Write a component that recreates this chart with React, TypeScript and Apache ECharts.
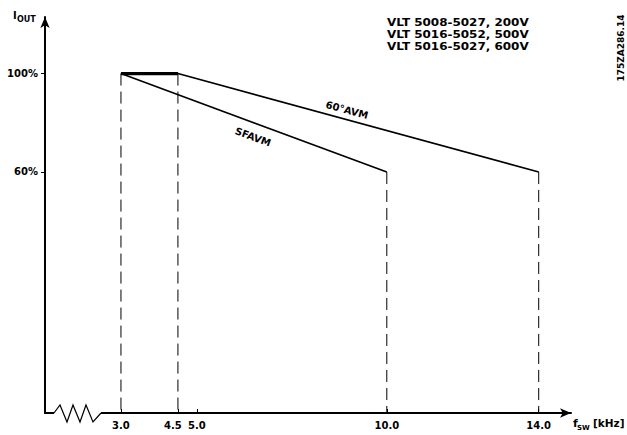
import React, { useEffect, useRef } from "react";
import * as echarts from "echarts";

// ---- data ----
const freqTicks = [3, 4.5, 5, 10, 14]; // kHz tick labels
const currentTicks = [60, 100]; // % tick labels
const avm60Freq = [3, 4.5, 14];
const avm60Current = [100, 100, 60];
const sfavmFreq = [3, 10];
const sfavmCurrent = [100, 60];
const dropFreqs = [3, 4.5, 10, 14];
const dropCurrents = [100, 100, 60, 60];
const modelLines = [
  "VLT 5008-5027, 200V",
  "VLT 5016-5052, 500V",
  "VLT 5016-5027, 600V",
];
const docCode = "175ZA286.14";

const X_MIN = 1;
const X_MAX = 14.85;
const Y_MIN = -38;
const Y_MAX = 123;

const FONT = "DejaVu Sans";

export default function App() {
  const ref = useRef<HTMLDivElement>(null);

  useEffect(() => {
    if (!ref.current) return;
    const chart = echarts.init(ref.current, null, { renderer: "svg" });

    const avm60 = avm60Freq.map((f, i) => [f, avm60Current[i]]);
    const sfavm = sfavmFreq.map((f, i) => [f, sfavmCurrent[i]]);
    const flat = avm60.slice(0, 2);

    const dropSeries = dropFreqs.map((f, i) => ({
      type: "line",
      data: [
        [f, dropCurrents[i]],
        [f, Y_MIN],
      ],
      showSymbol: false,
      silent: true,
      lineStyle: { color: "#000", width: 1, type: [12, 6] },
      z: 1,
    }));

    const txt = (
      text: string,
      x: number,
      y: number,
      size: number,
      extra: any = {}
    ) => ({
      type: "text",
      x,
      y,
      z: 100,
      ...extra,
      style: {
        text,
        fill: "#000",
        font: `bold ${size}px '${FONT}'`,
        align: "left",
        verticalAlign: "middle",
        ...(extra.style || {}),
      },
    });

    chart.setOption({
      animation: false,
      backgroundColor: "#fff",
      grid: { left: 45, right: 56, top: 17, bottom: 22 },
      xAxis: {
        type: "value",
        min: X_MIN,
        max: X_MAX,
        axisLine: {
          show: true,
          onZero: false,
          lineStyle: { color: "#000", width: 2 },
          symbol: ["none", "arrow"],
          symbolSize: [7, 11],
        },
        axisTick: {
          show: true,
          inside: true,
          length: 4,
          customValues: freqTicks,
          lineStyle: { color: "#000", width: 1 },
        },
        axisLabel: {
          customValues: freqTicks,
          formatter: (v: number) =>
            v === 4.5 ? "{s|" + v.toFixed(1) + "}" : v.toFixed(1),
          rich: {
            s: {
              padding: [0, 10, 0, 0],
              color: "#000",
              fontFamily: FONT,
              fontWeight: "bold",
              fontSize: 10,
            },
          },
          color: "#000",
          fontFamily: FONT,
          fontWeight: "bold",
          fontSize: 10,
          margin: 7,
        },
        splitLine: { show: false },
      },
      yAxis: {
        type: "value",
        min: Y_MIN,
        max: Y_MAX,
        axisLine: {
          show: true,
          onZero: false,
          lineStyle: { color: "#000", width: 2 },
          symbol: ["none", "arrow"],
          symbolSize: [7, 11],
        },
        axisTick: {
          show: true,
          length: 4,
          customValues: currentTicks,
          lineStyle: { color: "#000", width: 1 },
        },
        axisLabel: {
          customValues: currentTicks,
          formatter: "{value}%",
          color: "#000",
          fontFamily: FONT,
          fontWeight: "bold",
          fontSize: 10,
          margin: 7,
        },
        splitLine: { show: false },
      },
      series: [
        ...dropSeries,
        {
          name: "60°AVM",
          type: "line",
          data: avm60,
          showSymbol: false,
          lineStyle: { color: "#000", width: 1.6 },
          z: 3,
        },
        {
          name: "SFAVM",
          type: "line",
          data: sfavm,
          showSymbol: false,
          lineStyle: { color: "#000", width: 1.6 },
          z: 3,
        },
        {
          name: "flat",
          type: "line",
          data: flat,
          showSymbol: false,
          lineStyle: { color: "#000", width: 3.2 },
          z: 4,
        },
      ],
      graphic: [
        // axis break
        {
          type: "rect",
          shape: { x: 54, y: 409, width: 47, height: 8 },
          style: { fill: "#fff" },
          z: 90,
        },
        {
          type: "polyline",
          shape: {
            points: [
              [54, 413],
              [60, 405],
              [67, 422],
              [73, 405],
              [80, 422],
              [86, 405],
              [93, 422],
              [101, 413],
            ],
          },
          style: { stroke: "#000", lineWidth: 1.2, fill: null },
          z: 91,
        },
        // axis titles
        txt("I", 13, 15, 10),
        txt("OUT", 17, 19, 8),
        txt("f", 573, 423, 11),
        txt("SW", 577, 428, 7),
        txt("[kHz]", 593, 423, 10.5),
        // curve labels
        txt("60°AVM", 347, 110, 10, {
          rotation: -0.26,
          style: { align: "center" },
        }),
        txt("SFAVM", 253, 137, 10, {
          rotation: -0.35,
          style: { align: "center" },
        }),
        // model list
        txt(modelLines.join("\n"), 387, 35, 10.5, {
          scaleX: 1.14,
          style: { lineHeight: 12 },
        }),
        // document code
        txt(docCode, 621, 48, 9, {
          rotation: Math.PI / 2,
          style: { align: "center" },
        }),
      ],
    });

    return () => chart.dispose();
  }, []);

  return (
    <div
      ref={ref}
      style={{ position: "fixed", left: 0, top: 0, width: 627, height: 435 }}
    />
  );
}
